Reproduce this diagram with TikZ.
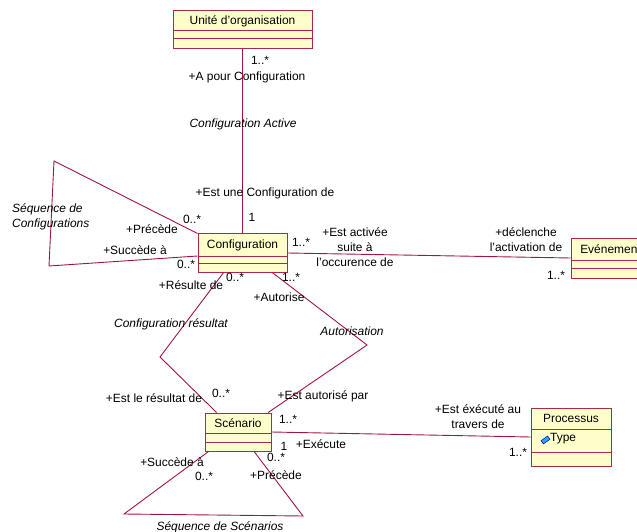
\documentclass[tikz,border=0pt]{standalone}
\usepackage{fontspec}
\setmainfont{Liberation Sans}
\usetikzlibrary{calc,fit}

\definecolor{umlline}{RGB}{160,20,70}
\definecolor{umlborder}{RGB}{170,40,80}
\definecolor{umlfill}{RGB}{255,255,204}
\definecolor{attrblue}{RGB}{40,170,240}

\newcommand\lblfont{\fontsize{12}{15}\selectfont}

\tikzset{
  classbox/.style={draw=umlborder, fill=umlfill, line width=1bp, inner sep=0pt},
  sepline/.style={draw=umlborder, line width=1bp},
  assoc/.style={draw=umlline, line width=0.9bp},
  lbl/.style={inner sep=0pt, font=\lblfont},
  assocname/.style={lbl, font=\lblfont\itshape},
  attricon/.style={draw=blue!60!black, fill=attrblue, line width=0.5bp,
    minimum width=8bp, minimum height=4bp, inner sep=0pt, rotate=35},
}

% UML class: name, left, top, right, first separator, second separator, bottom, title
\newcommand\umlclass[8]{%
  \node[classbox, fit={(#2,#3) (#4,#7)}] (#1) {};
  \draw[sepline] (#2,#5) -- (#4,#5) (#2,#6) -- (#4,#6);
  \node[lbl] (#1-title) at ({(#2+#4)/2},{(#3+#5)/2}) {#8};
}

\begin{document}
\begin{tikzpicture}[x=1bp, y=-1bp]
  \useasboundingbox (0,0) rectangle (637,532);
  \clip (0,0) rectangle (637,532);

  % classes
  \umlclass{unite}{173}{11}{312}{31}{39}{49}{Unité d'organisation}
  \umlclass{conf}{198}{234}{287}{256}{263}{272}{Configuration}
  \umlclass{event}{571}{238}{650}{260}{268}{278}{Evénement}
  \umlclass{scen}{205}{413}{271}{433}{442}{451}{Scénario}
  \umlclass{proc}{531}{408}{611}{429}{452}{466}{Processus}

  % attribute of Processus
  \node[attricon] (ptype-icon) at (545.5,440) {};
  \node[lbl, anchor=west] (ptype) at (550,439) {Type};

  % bend points of the associations
  \coordinate (cfgA) at (54,161);
  \coordinate (cfgB) at (49,266);
  \coordinate (resA) at (160,357);
  \coordinate (autA) at (367,345);
  \coordinate (seqA) at (124,514);
  \coordinate (seqB) at (303,516);

  % associations
  \draw[assoc] (unite.south) -- (conf.north);
  \draw[assoc] (conf.east) -- (event.west);
  \draw[assoc] (scen.east) -- (proc.west);
  \draw[assoc] (conf.north west) -- (cfgA) -- (cfgB) -- ([yshift=-3bp]conf.west);
  \draw[assoc] ($(conf.south west)!0.29!(conf.south east)$) -- (resA)
               -- ($(scen.north west)!0.18!(scen.north east)$);
  \draw[assoc] ($(conf.south west)!0.83!(conf.south east)$) -- (autA)
               -- ($(scen.north west)!0.95!(scen.north east)$);
  \draw[assoc] ($(scen.south west)!0.06!(scen.south east)$) -- (seqA) -- (seqB)
               -- ($(scen.south west)!0.74!(scen.south east)$);

  % Unité d'organisation -- Configuration
  \node[lbl] (m1) at (260,60) {1..*};
  \node[lbl] (r1) at (247,77) {+A pour Configuration};
  \node[assocname] (a1) at (243,124) {Configuration Active};
  \node[lbl] (r2) at (265,193) {+Est une Configuration de};
  \node[lbl] (m2) at (252,217) {1};

  % sequence of configurations
  \node[lbl] (m3) at (192,219) {0..*};
  \node[lbl] (r3) at (152,229) {+Précède};
  \node[lbl] (r4) at (135,250) {+Succède à};
  \node[lbl] (m4) at (186,264) {0..*};
  \node[assocname, anchor=west, align=left] (a2) at (12,216.5) {Séquence de\\Configurations};

  % Configuration -- Evénement
  \node[lbl] (m5) at (301,242) {1..*};
  \node[lbl, align=center] (r5) at (355,247) {+Est activée\\suite à\\l'occurence de};
  \node[lbl, align=center] (r6) at (526,240) {+déclenche\\l'activation de};
  \node[lbl] (m6) at (556,275) {1..*};

  % Configuration -- Scénario
  \node[lbl] (r7) at (191,285) {+Résulte de};
  \node[lbl] (m7) at (235,277) {0..*};
  \node[lbl] (m8) at (291,277) {1..*};
  \node[lbl] (r8) at (279,297) {+Autorise};
  \node[assocname] (a3) at (171,324) {Configuration résultat};
  \node[assocname] (a4) at (352,331) {Autorisation};
  \node[lbl] (r9) at (154,398) {+Est le résultat de};
  \node[lbl] (m9) at (221,393) {0..*};
  \node[lbl] (r10) at (323,396) {+Est autorisé par};
  \node[lbl] (m10) at (288,419) {1..*};

  % Scénario -- Processus
  \node[lbl, align=center] (r11) at (478,417) {+Est éxécuté au\\travers de};
  \node[lbl] (m11) at (518,452) {1..*};
  \node[lbl] (r12) at (321,444) {+Exécute};
  \node[lbl] (m12) at (284,446) {1};

  % sequence of scenarios
  \node[lbl] (m13) at (276,457) {0..*};
  \node[lbl] (r13) at (276,475) {+Précède};
  \node[lbl] (r14) at (172,462) {+Succède à};
  \node[lbl] (m14) at (204,476) {0..*};
  \node[assocname] (a5) at (220,527) {Séquence de Scénarios};
\end{tikzpicture}
\end{document}
